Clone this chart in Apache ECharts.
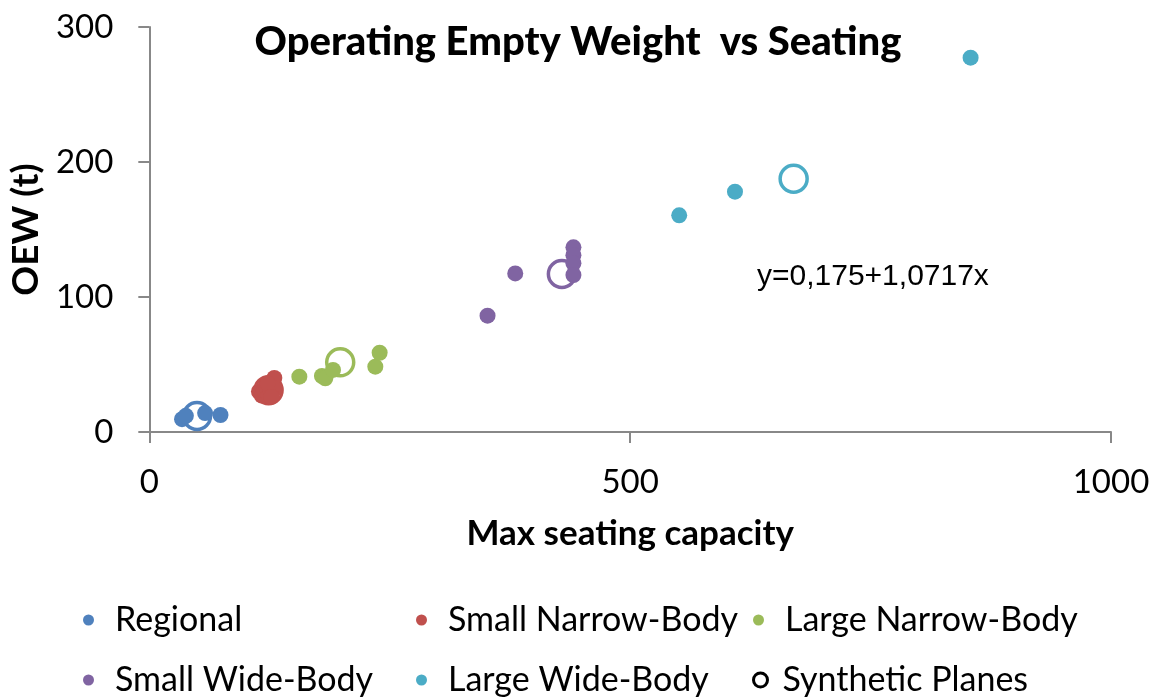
<!DOCTYPE html>
<html>
<head>
<meta charset="utf-8">
<script src="https://cdn.jsdelivr.net/npm/echarts@6/dist/echarts.min.js"></script>
<style>
  html, body { margin: 0; padding: 0; background: #fff; }
  #chart { width: 1158px; height: 698px; }
</style>
</head>
<body>
<div id="chart"></div>
<script>
// [max seats, OEW (t)]
const regional = [[34, 9.5], [38, 12], [58, 14], [74, 12.6]];
const smallNarrow = [[114, 30], [117, 27], [119, 31], [121, 34], [124, 27], [126, 31], [128, 35], [130, 40], [131, 32], [123, 36], [127, 26]];
const largeNarrow = [[156, 41], [179.5, 41.5], [183, 39.8], [191, 46], [235, 48.4], [239.5, 58.7]];
const smallWide = [[351.7, 86.2], [380.5, 117.5], [441, 136.8], [441, 131], [441, 125], [441, 116.3]];
const largeWide = [[551, 160.5], [609, 178], [854, 277.3]];
const synthetic = [[49.6, 11.9], [124, 31], [198.5, 51.6], [429, 117], [670, 187.6]];
const seriesNames = ['Regional', 'Small Narrow-Body', 'Large Narrow-Body', 'Small Wide-Body', 'Large Wide-Body'];
const colors = ['#4F81BD', '#C0504D', '#9BBB59', '#8064A2', '#4BACC6'];
const xTicks = [0, 500, 1000];
const yTicks = [0, 100, 200, 300];
const equation = 'y=0,175+1,0717x';

const groups = [regional, smallNarrow, largeNarrow, smallWide, largeWide];

const chart = echarts.init(document.getElementById('chart'));

const font = 'Lato, "Open Sans", sans-serif';

// legend grid: two rows, three columns
const legendCols = [83, 416, 753];
const legendRows = [600, 660];
const legendNames = [...seriesNames, 'Synthetic Planes'];
const legends = legendNames.map((name, i) => ({
  left: i === 5 ? 752 : legendCols[i % 3],
  top: legendRows[Math.floor(i / 3)],
  padding: 0,
  icon: 'circle',
  itemWidth: i === 5 ? 14 : 11,
  itemHeight: i === 5 ? 14 : 11,
  selectedMode: false,
  textStyle: { fontFamily: font, fontSize: 34, color: '#000', padding: [0, 0, 0, i === 5 ? 10 : 16], lineHeight: 40 },
  data: [
    i === 5
      ? { name, itemStyle: { color: 'transparent', borderColor: '#000', borderWidth: 3 } }
      : { name, itemStyle: { color: colors[i] } },
  ],
}));

const option = {
  animation: false,
  title: {
    text: 'Operating Empty Weight  vs Seating',
    left: 573,
    textAlign: 'center',
    top: 17,
    textStyle: { fontFamily: font, fontSize: 40, fontWeight: 900, color: '#000' },
  },
  legend: legends,
  grid: { left: 149, right: 47, top: 27, bottom: 266 },
  xAxis: {
    type: 'value',
    min: 0,
    max: 1000,
    interval: 500,
    name: 'Max seating capacity',
    nameLocation: 'middle',
    nameGap: 84,
    nameTextStyle: { fontFamily: font, fontSize: 35, fontWeight: 'bold', color: '#000' },
    axisLine: { show: true, lineStyle: { color: '#888', width: 2 } },
    axisTick: { show: true, length: 11, lineStyle: { color: '#888', width: 2 } },
    splitLine: { show: false },
    axisLabel: {
      fontFamily: font, fontSize: 33, color: '#000', margin: 34,
      formatter: (v) => (xTicks.includes(v) ? String(v) : ''),
    },
  },
  yAxis: {
    type: 'value',
    min: 0,
    max: 300,
    interval: 100,
    name: 'OEW (t)',
    nameLocation: 'middle',
    nameGap: 101,
    nameRotate: 90,
    nameTextStyle: { fontFamily: font, fontSize: 37, fontWeight: 'bold', color: '#000' },
    axisLine: { show: true, lineStyle: { color: '#888', width: 2 } },
    axisTick: { show: true, length: 11, lineStyle: { color: '#888', width: 2 } },
    splitLine: { show: false },
    axisLabel: {
      fontFamily: font, fontSize: 33, color: '#000', margin: 36,
      formatter: (v) => (yTicks.includes(v) ? String(v) : ''),
    },
  },
  graphic: [
    {
      type: 'text',
      left: 757,
      top: 262,
      style: { text: equation, fontFamily: '"Liberation Sans", Arial, sans-serif', fontSize: 30, fill: '#000' },
    },
  ],
  series: [
    {
      name: 'Synthetic Planes',
      type: 'scatter',
      symbolSize: 27,
      itemStyle: { color: 'transparent', borderColor: '#000', borderWidth: 3, opacity: 1 },
      z: 1,
      data: synthetic.map((p, i) => ({
        value: p,
        itemStyle: { color: 'transparent', borderColor: colors[i], borderWidth: 3.5, opacity: 1 },
      })),
    },
    ...groups.map((g, i) => ({
      name: seriesNames[i],
      type: 'scatter',
      symbolSize: 16,
      itemStyle: { color: colors[i], opacity: 1 },
      z: 2,
      data: g,
    })),
  ],
};

chart.setOption(option);
</script>
</body>
</html>
